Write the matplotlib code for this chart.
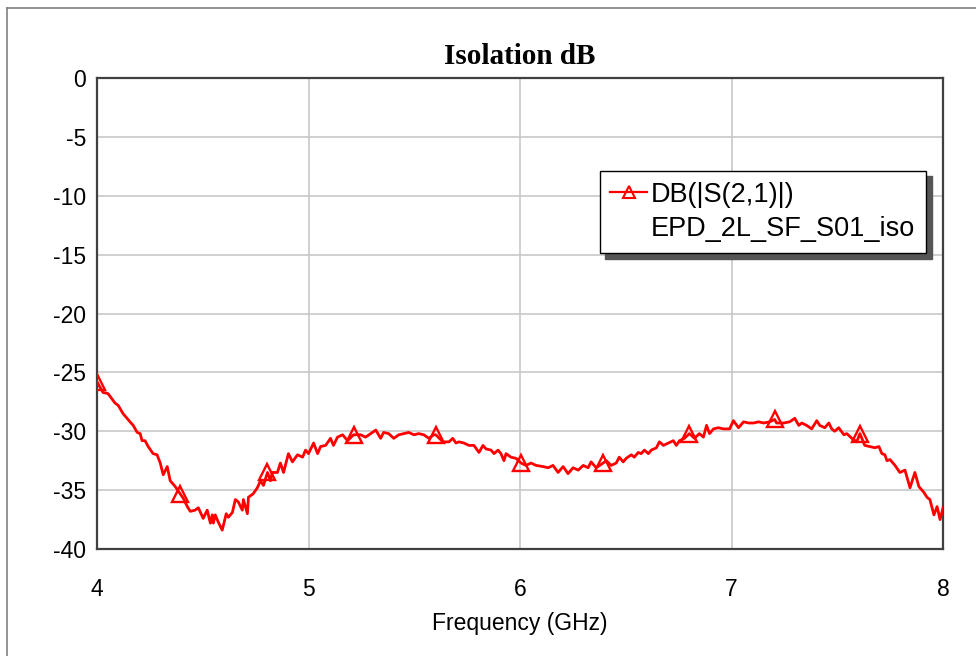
import numpy as np
import matplotlib
matplotlib.use("Agg")
from matplotlib import pyplot as plt
from matplotlib.lines import Line2D

# values (GHz, dB)
freq = [4.000, 4.028, 4.052, 4.085, 4.100, 4.123, 4.156, 4.171, 4.190, 4.204,
        4.213, 4.227, 4.242, 4.265, 4.284, 4.299, 4.313, 4.332, 4.346, 4.370,
        4.393, 4.408, 4.427, 4.441, 4.464, 4.479, 4.502, 4.521, 4.536, 4.545,
        4.550, 4.559, 4.573, 4.592, 4.611, 4.621, 4.640, 4.654, 4.668, 4.687,
        4.692, 4.711, 4.716, 4.739, 4.758, 4.773, 4.787, 4.806, 4.820, 4.829,
        4.853, 4.867, 4.882, 4.905, 4.924, 4.948, 4.972, 4.986, 5.000, 5.024,
        5.043, 5.057, 5.081, 5.104, 5.118, 5.137, 5.161, 5.185, 5.213, 5.246,
        5.270, 5.294, 5.318, 5.341, 5.355, 5.379, 5.403, 5.427, 5.450, 5.474,
        5.498, 5.521, 5.545, 5.569, 5.592, 5.602, 5.635, 5.664, 5.682, 5.697,
        5.711, 5.735, 5.758, 5.782, 5.806, 5.825, 5.839, 5.863, 5.877, 5.896,
        5.910, 5.924, 5.934, 5.957, 5.981, 6.005, 6.028, 6.052, 6.076, 6.109,
        6.133, 6.156, 6.180, 6.204, 6.227, 6.251, 6.275, 6.299, 6.322, 6.336,
        6.360, 6.393, 6.408, 6.431, 6.455, 6.469, 6.488, 6.502, 6.526, 6.540,
        6.559, 6.573, 6.588, 6.607, 6.621, 6.645, 6.659, 6.678, 6.701, 6.725,
        6.739, 6.754, 6.777, 6.801, 6.825, 6.848, 6.867, 6.882, 6.896, 6.915,
        6.938, 6.962, 6.991, 7.009, 7.033, 7.057, 7.081, 7.104, 7.128, 7.152,
        7.180, 7.204, 7.213, 7.246, 7.275, 7.299, 7.318, 7.332, 7.355, 7.379,
        7.403, 7.417, 7.441, 7.460, 7.474, 7.488, 7.507, 7.531, 7.545, 7.569,
        7.592, 7.607, 7.630, 7.654, 7.678, 7.697, 7.711, 7.725, 7.735, 7.749,
        7.773, 7.796, 7.820, 7.844, 7.867, 7.886, 7.910, 7.924, 7.938, 7.957,
        7.972, 7.986, 8.000]
s21_db = [-25.8, -26.7, -26.8, -27.6, -27.8, -28.5, -29.2, -29.5, -30.1, -30.2,
          -30.8, -30.8, -31.3, -31.9, -32.0, -32.7, -33.7, -33.0, -34.2, -34.7,
          -35.3, -35.7, -36.4, -36.8, -36.7, -36.5, -37.4, -36.7, -37.8, -37.1,
          -37.8, -37.1, -37.7, -38.4, -37.0, -37.3, -36.9, -35.8, -36.0, -36.7,
          -35.8, -37.0, -35.6, -35.3, -34.8, -34.2, -34.6, -33.5, -34.2, -33.5,
          -33.5, -32.7, -33.5, -31.9, -32.6, -32.0, -32.2, -31.6, -31.9, -31.0,
          -31.9, -31.3, -31.2, -30.6, -31.2, -30.5, -30.3, -30.8, -30.3, -30.3,
          -30.5, -30.2, -29.9, -30.6, -30.1, -30.2, -30.6, -30.3, -30.2, -30.1,
          -30.3, -30.2, -30.3, -30.6, -30.3, -30.3, -30.9, -30.9, -30.6, -31.0,
          -30.9, -31.0, -31.2, -31.2, -31.8, -31.2, -31.5, -31.6, -31.9, -31.6,
          -31.9, -32.5, -31.9, -32.2, -32.3, -32.7, -32.9, -32.7, -32.9, -33.0,
          -33.1, -32.9, -33.5, -33.0, -33.6, -33.1, -33.3, -32.9, -33.1, -32.6,
          -33.1, -32.7, -32.5, -32.9, -32.7, -32.2, -32.6, -32.3, -32.0, -32.2,
          -31.8, -31.9, -31.6, -31.9, -31.6, -31.4, -30.9, -31.2, -31.0, -30.8,
          -31.2, -30.8, -30.6, -30.2, -30.6, -30.2, -30.5, -29.5, -30.2, -29.8,
          -29.7, -29.8, -29.8, -29.1, -29.7, -29.2, -29.3, -29.3, -29.2, -29.3,
          -29.2, -29.0, -29.3, -29.3, -29.2, -28.9, -29.5, -29.3, -29.5, -29.8,
          -29.1, -29.5, -29.7, -29.3, -29.8, -30.0, -29.7, -30.3, -30.2, -30.6,
          -30.9, -30.2, -31.2, -31.3, -31.4, -31.3, -31.9, -32.0, -32.5, -32.4,
          -32.9, -33.5, -33.3, -34.8, -33.5, -34.7, -35.2, -35.6, -35.8, -37.1,
          -36.4, -37.5, -36.5]
marker_freq = [4.0, 4.4, 4.8, 5.2, 5.6, 6.0, 6.4, 6.8, 7.2, 7.6]
x_ticks = [4, 5, 6, 7, 8]
y_ticks = [0, -5, -10, -15, -20, -25, -30, -35, -40]
trace_label = 'DB(|S(2,1)|)'
file_label = 'EPD_2L_SF_S01_iso'

plt.rcParams['font.family'] = ['Liberation Sans', 'DejaVu Sans']
plt.rcParams['axes.unicode_minus'] = False

f = np.array(freq)
idx = [int(np.argmin(np.abs(f - m))) for m in marker_freq]

fig = plt.figure(figsize=(9.76, 6.56), dpi=100)
ax = fig.add_axes([0.0994, 0.1631, 0.8668, 0.7180])

ax.plot(freq, s21_db, color='red', lw=2.0, marker='^', markevery=idx,
        ms=12, mfc='none', mec='red', mew=1.7, zorder=3)

ax.set_xlim(4, 8)
ax.set_ylim(-40, 0)
ax.set_xticks(x_ticks)
ax.set_yticks(y_ticks)
ax.grid(True, color='#c8c8c8', lw=1.2)
ax.set_axisbelow(True)
ax.tick_params(axis='both', length=0, labelsize=16.5)
ax.tick_params(axis='x', pad=21)
ax.tick_params(axis='y', pad=8)
for sp in ax.spines.values():
    sp.set_color('#404040')
    sp.set_linewidth(1.6)

ax.set_title('Isolation dB', family='Liberation Serif', fontweight='bold',
             fontsize=21, pad=10)
ax.set_xlabel('Frequency (GHz)', fontsize=16.5, labelpad=8)

h1 = Line2D([], [], color='red', lw=1.6, marker='^', ms=9, mfc='none',
            mec='red', mew=1.5)
h2 = Line2D([], [], color='none')
leg = ax.legend([h1, h2], [trace_label, file_label], loc='upper left',
                bbox_to_anchor=(0.594, 0.803), borderaxespad=0,
                fontsize=19.5, fancybox=False, edgecolor='black', framealpha=1,
                shadow={'ox': 4, 'oy': -4, 'color': '#555555', 'alpha': 1},
                labelspacing=0.32, handlelength=1.35, handletextpad=0.15,
                borderpad=0.4)
leg.get_frame().set_linewidth(1.0)

# outer chart frame (top and left edges)
fig.add_artist(Line2D([7 / 976, 7 / 976], [0, 1 - 8 / 656], color='#808080', lw=1.2))
fig.add_artist(Line2D([7 / 976, 1], [1 - 8 / 656, 1 - 8 / 656], color='#808080', lw=1.2))

fig.savefig('out.png', dpi=100)
